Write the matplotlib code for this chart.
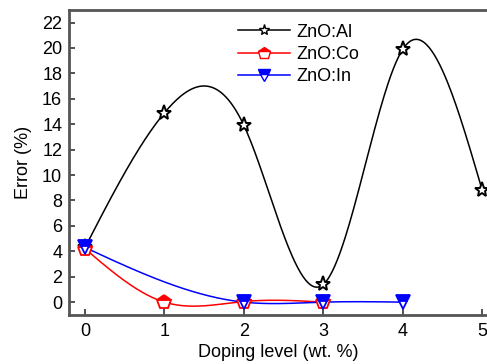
import numpy as np
import matplotlib.pyplot as plt

plt.rcParams['font.family'] = ['Liberation Sans', 'DejaVu Sans']

# doping levels (wt. %) and errors (%)
x_al = [0, 1, 2, 3, 4, 5]
err_al = [4.3, 14.9, 13.9, 1.4, 19.9, 8.8]

x_co = [0, 1, 2, 3]
err_co = [4.2, 0.0, 0.05, 0.0]

x_in = [0, 2, 3, 4]
err_in = [4.3, 0.0, 0.0, 0.0]


def smooth(x, y, n=300):
    # natural cubic spline through the measured points (for the curve only)
    x = np.asarray(x, float)
    y = np.asarray(y, float)
    m = len(x)
    h = np.diff(x)
    A = np.zeros((m, m))
    b = np.zeros(m)
    A[0, 0] = A[-1, -1] = 1
    for i in range(1, m - 1):
        A[i, i - 1] = h[i - 1]
        A[i, i] = 2 * (h[i - 1] + h[i])
        A[i, i + 1] = h[i]
        b[i] = 3 * ((y[i + 1] - y[i]) / h[i] - (y[i] - y[i - 1]) / h[i - 1])
    c = np.linalg.solve(A, b)
    xs = np.linspace(x[0], x[-1], n)
    ys = np.empty_like(xs)
    for k, xv in enumerate(xs):
        i = min(np.searchsorted(x, xv, side='right') - 1, m - 2)
        d = xv - x[i]
        bi = (y[i + 1] - y[i]) / h[i] - h[i] * (2 * c[i] + c[i + 1]) / 3
        di = (c[i + 1] - c[i]) / (3 * h[i])
        ys[k] = y[i] + bi * d + c[i] * d ** 2 + di * d ** 3
    return xs, ys


fig = plt.figure(figsize=(4.87, 3.64), dpi=100)
ax = fig.add_axes([0.142, 0.135, 0.858, 0.838])

xs, ys = smooth(x_al, err_al)
ax.plot(xs, ys, color='black', lw=1.1, zorder=2)
ax.plot(x_al, err_al, ls='none', marker='*', ms=11, mfc='white', mec='black', mew=1.4, zorder=3)

xs, ys = smooth(x_co, err_co)
ax.plot(xs, ys, color='red', lw=1.1, zorder=2)
ax.plot(x_co, err_co, ls='none', marker='p', ms=10, mfc='red', mfcalt='white', fillstyle='top',
        mec='red', mew=1.3, zorder=3)

xs, ys = smooth(x_in, err_in)
ax.plot(xs, ys, color='blue', lw=1.1, zorder=2)
ax.plot(x_in, err_in, ls='none', marker='v', ms=10, mfc='blue', mfcalt='white', fillstyle='top',
        mec='blue', mew=1.3, zorder=3)

# legend handles
h1, = ax.plot([], [], color='black', lw=1.1, marker='*', ms=8, mfc='white', mec='black')
h2, = ax.plot([], [], color='red', lw=1.1, marker='p', ms=9, mfc='red', mfcalt='white',
              fillstyle='top', mec='red')
h3, = ax.plot([], [], color='blue', lw=1.1, marker='v', ms=9, mfc='blue', mfcalt='white',
              fillstyle='top', mec='blue')
ax.legend([h1, h2, h3], ['ZnO:Al', 'ZnO:Co', 'ZnO:In'], frameon=False, fontsize=13,
          loc='upper left', bbox_to_anchor=(0.404, 0.955), borderpad=0, borderaxespad=0,
          handlelength=2.9, handletextpad=0.35, labelspacing=0.3)

ax.set_xlim(-0.2, 5.06)
ax.set_ylim(-1, 23)
ax.set_xticks(range(6))
ax.set_yticks(range(0, 23, 2))
ax.tick_params(direction='in', labelsize=13, length=4, width=1.2, colors='#333333', labelcolor='black')
ax.tick_params(axis='x', pad=6)
ax.tick_params(axis='y', pad=5)
for s in ['top', 'bottom', 'left']:
    ax.spines[s].set_linewidth(2)
    ax.spines[s].set_color('#555555')
ax.spines['right'].set_visible(False)

ax.set_xlabel('Doping level (wt. %)', fontsize=13, labelpad=3)
ax.set_ylabel('Error (%)', fontsize=13, labelpad=7)

fig.savefig('out.png', dpi=100)
